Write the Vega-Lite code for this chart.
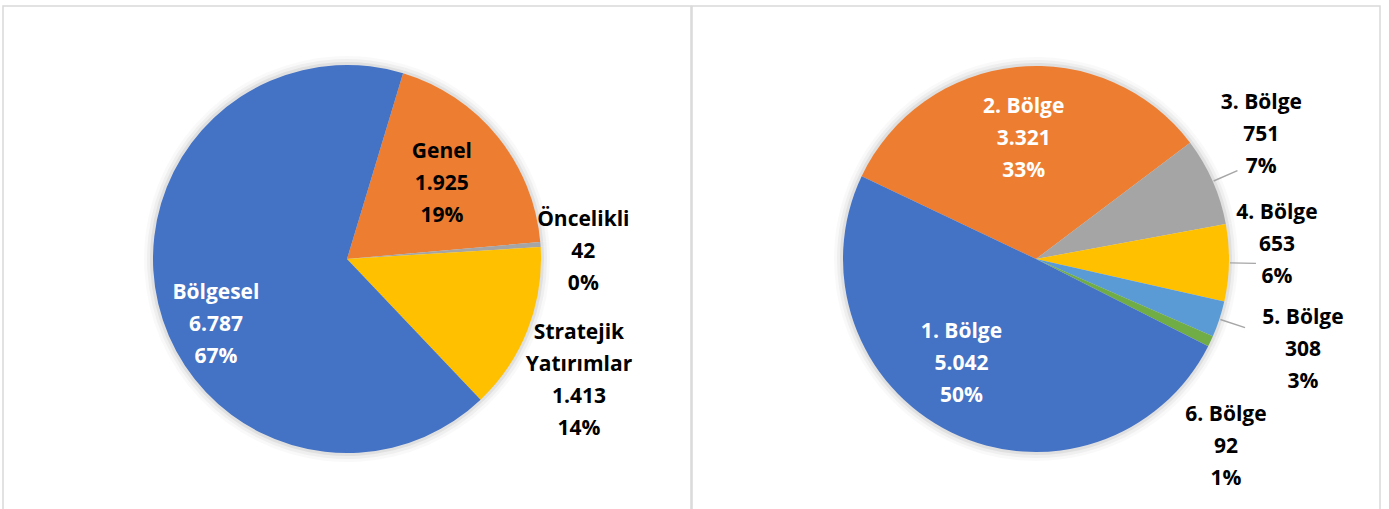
{
  "$schema": "https://vega.github.io/schema/vega-lite/v6.json",
  "background": "white",
  "bounds": "flush",
  "padding": {"left": 2, "top": 2, "right": 0, "bottom": 0},
  "spacing": 1,
  "config": {"view": {"stroke": "#d9d9d9", "strokeWidth": 1.5}, "text": {"font": "Open Sans", "fontSize": 21, "fontWeight": "bold", "lineBreak": "\n", "lineHeight": 32, "align": "center", "baseline": "middle", "clip": true}},
  "resolve": {"scale": {"color": "independent", "theta": "independent", "x": "independent", "y": "independent"}},
  "datasets": {
    "left": [
      {"name": "Genel", "value": 1925, "ord": 1},
      {"name": "Öncelikli", "value": 42, "ord": 2},
      {"name": "Stratejik\nYatırımlar", "value": 1413, "ord": 3},
      {"name": "Bölgesel", "value": 6787, "ord": 4}
    ],
    "right": [
      {"name": "2. Bölge", "value": 3321, "ord": 1},
      {"name": "3. Bölge", "value": 751, "ord": 2},
      {"name": "4. Bölge", "value": 653, "ord": 3},
      {"name": "5. Bölge", "value": 308, "ord": 4},
      {"name": "6. Bölge", "value": 92, "ord": 5},
      {"name": "1. Bölge", "value": 5042, "ord": 6}
    ]
  },
  "hconcat": [
    {
      "width": 688,
      "height": 506,
      "view": {"stroke": "#d9d9d9", "strokeWidth": 1.5},
      "data": {"name": "left"},
      "transform": [
        {"joinaggregate": [{"op": "sum", "field": "value", "as": "total"}]},
        {"calculate": "datum.name + '\\n' + replace(format(datum.value, ','), ',', '.') + '\\n' + format(datum.value / datum.total, '.0%')", "as": "label"}
      ],
      "encoding": {
        "theta": {"field": "value", "type": "quantitative", "stack": true, "scale": {"range": [0.29322, 6.57641]}},
        "order": {"field": "ord", "type": "quantitative"}
      },
      "layer": [
        {
          "mark": {"type": "point", "opacity": 0},
          "encoding": {
            "x": {"field": "ord", "type": "quantitative", "axis": null},
            "y": {"field": "ord", "type": "quantitative", "axis": null}
          }
        },
        {"mark": {"type": "arc", "radius": 203, "color": "#000000", "opacity": 0.025}},
        {"mark": {"type": "arc", "radius": 200, "color": "#000000", "opacity": 0.04}},
        {"mark": {"type": "arc", "radius": 197, "color": "#000000", "opacity": 0.06}},
        {
          "mark": {"type": "arc", "radius": 194},
          "encoding": {
            "color": {"field": "name", "type": "nominal", "legend": null, "scale": {"domain": ["Bölgesel", "Genel", "Öncelikli", "Stratejik\nYatırımlar"], "range": ["#4472C4", "#ED7D31", "#A5A5A5", "#FFC000"]}}
          }
        },
        {
          "mark": {"type": "text", "radius": 121, "dx": 1, "dy": -31, "color": "#000000", "clip": true},
          "encoding": {"text": {"condition": {"test": "datum.ord === 1", "field": "label"}, "value": ""}}
        },
        {
          "mark": {"type": "text", "radius": 236, "dx": 1, "dy": -21, "color": "#000000", "clip": true},
          "encoding": {"text": {"condition": {"test": "datum.ord === 2", "field": "label"}, "value": ""}}
        },
        {
          "mark": {"type": "text", "radius": 260, "dx": -10, "dy": -21, "color": "#000000", "clip": true},
          "encoding": {"text": {"condition": {"test": "datum.ord === 3", "field": "label"}, "value": ""}}
        },
        {
          "mark": {"type": "text", "radius": 144, "dx": 9, "dy": 1, "color": "#ffffff", "clip": true},
          "encoding": {"text": {"condition": {"test": "datum.ord === 4", "field": "label"}, "value": ""}}
        }
      ]
    },
    {
      "width": 688,
      "height": 506,
      "view": {"stroke": "#d9d9d9", "strokeWidth": 1.5},
      "data": {"name": "right"},
      "transform": [
        {"joinaggregate": [{"op": "sum", "field": "value", "as": "total"}]},
        {"calculate": "datum.name + '\\n' + replace(format(datum.value, ','), ',', '.') + '\\n' + format(datum.value / datum.total, '.0%')", "as": "label"}
      ],
      "encoding": {
        "theta": {"field": "value", "type": "quantitative", "stack": true, "scale": {"range": [5.1557, 11.43889]}},
        "order": {"field": "ord", "type": "quantitative"}
      },
      "layer": [
        {
          "mark": {"type": "point", "opacity": 0},
          "encoding": {
            "x": {"field": "ord", "type": "quantitative", "axis": null},
            "y": {"field": "ord", "type": "quantitative", "axis": null}
          }
        },
        {"mark": {"type": "arc", "radius": 202, "color": "#000000", "opacity": 0.025}},
        {"mark": {"type": "arc", "radius": 199, "color": "#000000", "opacity": 0.04}},
        {"mark": {"type": "arc", "radius": 196, "color": "#000000", "opacity": 0.06}},
        {
          "mark": {"type": "arc", "radius": 193},
          "encoding": {
            "color": {"field": "name", "type": "nominal", "legend": null, "scale": {"domain": ["1. Bölge", "2. Bölge", "3. Bölge", "4. Bölge", "5. Bölge", "6. Bölge"], "range": ["#4472C4", "#ED7D31", "#A5A5A5", "#FFC000", "#5B9BD5", "#70AD47"]}}
          }
        },
        {
          "mark": {"type": "arc", "innerRadius": 194, "outerRadius": 220, "padAngle": 1, "filled": false, "stroke": "#a6a6a6", "strokeWidth": 1.4},
          "encoding": {
            "opacity": {"condition": {"test": "datum.ord >= 2 && datum.ord <= 4", "value": 1}, "value": 0}
          }
        },
        {
          "mark": {"type": "text", "radius": 121.5, "dx": 0, "dy": -31, "color": "#ffffff", "clip": true},
          "encoding": {"text": {"condition": {"test": "datum.ord === 1", "field": "label"}, "value": ""}}
        },
        {
          "mark": {"type": "text", "radius": 257, "dx": -10, "dy": -53, "color": "#000000", "clip": true},
          "encoding": {"text": {"condition": {"test": "datum.ord === 2", "field": "label"}, "value": ""}}
        },
        {
          "mark": {"type": "text", "radius": 241, "dx": 0, "dy": -51, "color": "#000000", "clip": true},
          "encoding": {"text": {"condition": {"test": "datum.ord === 3", "field": "label"}, "value": ""}}
        },
        {
          "mark": {"type": "text", "radius": 282, "dx": -1, "dy": -28.5, "color": "#000000", "clip": true},
          "encoding": {"text": {"condition": {"test": "datum.ord === 4", "field": "label"}, "value": ""}}
        },
        {
          "mark": {"type": "text", "radius": 252, "dx": -38, "dy": 49, "color": "#000000", "clip": true},
          "encoding": {"text": {"condition": {"test": "datum.ord === 5", "field": "label"}, "value": ""}}
        },
        {
          "mark": {"type": "text", "radius": 126, "dx": -19, "dy": -40, "color": "#ffffff", "clip": true},
          "encoding": {"text": {"condition": {"test": "datum.ord === 6", "field": "label"}, "value": ""}}
        }
      ]
    }
  ]
}
